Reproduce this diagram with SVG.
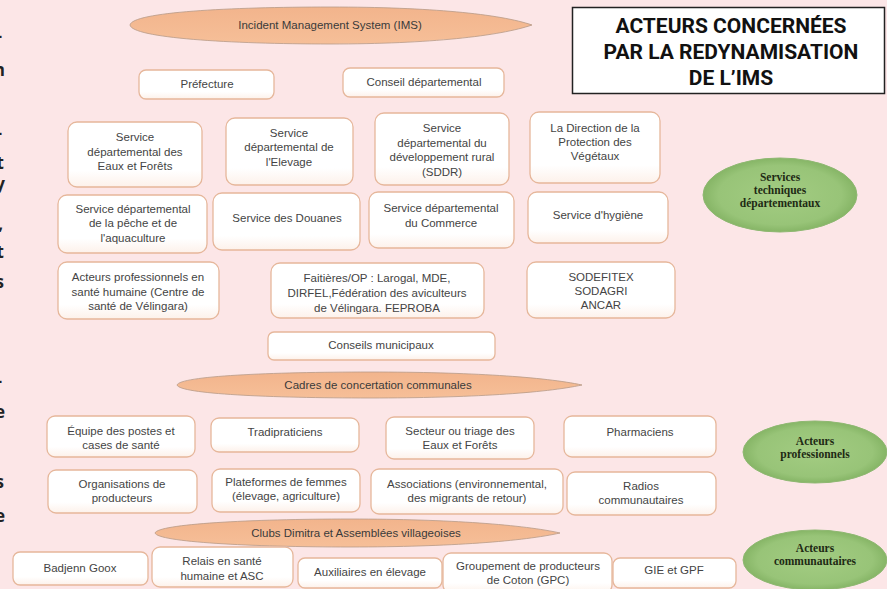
<svg xmlns="http://www.w3.org/2000/svg" width="887" height="589" viewBox="0 0 887 589">
<defs>
<linearGradient id="boxg" x1="0" y1="0" x2="0" y2="1">
<stop offset="0" stop-color="#ffffff"/>
<stop offset="0.75" stop-color="#ffffff"/>
<stop offset="1" stop-color="#fdf1ea"/>
</linearGradient>
<radialGradient id="greeng" cx="0.5" cy="0.5" r="0.5">
<stop offset="0" stop-color="#a3cc82"/>
<stop offset="0.8" stop-color="#98c478"/>
<stop offset="1" stop-color="#86b566"/>
</radialGradient>
<linearGradient id="orangeg" x1="0" y1="0" x2="0" y2="1">
<stop offset="0" stop-color="#f2b48c"/>
<stop offset="1" stop-color="#f6bf98"/>
</linearGradient>
</defs>
<style>
.box{fill:url(#boxg);stroke:#e6b79b;stroke-width:1.3}
.t{font-family:"Liberation Sans",Arial,sans-serif;font-size:11.5px;fill:#444;text-anchor:middle}
.band{fill:url(#orangeg);stroke:#b89a88;stroke-width:0.8}
.bt{font-family:"Liberation Sans",Arial,sans-serif;font-size:11.5px;fill:#3a3a3a;text-anchor:middle}
.green{fill:url(#greeng);stroke:#8fb872;stroke-width:1}
.gt{font-family:"Liberation Serif","Times New Roman",serif;font-size:11.5px;font-weight:bold;fill:#1e2a14;text-anchor:middle}
.title{font-family:Roboto,"Liberation Sans",sans-serif;font-size:21px;font-weight:bold;fill:#111;text-anchor:middle}
.frag{font-family:"Open Sans","Liberation Sans",sans-serif;font-size:17px;font-weight:bold;fill:#222;text-anchor:end}
</style>
<rect x="0" y="0" width="887" height="589" fill="#fce6e7"/>

<g id="margin-fragments">
<text class="frag" x="2" y="42">-</text>
<text class="frag" x="5" y="76">n</text>
<text class="frag" x="2" y="139">-</text>
<text class="frag" x="4" y="169">t</text>
<text class="frag" x="5" y="190">y</text>
<text class="frag" x="3" y="230">,</text>
<text class="frag" x="4" y="258">t</text>
<text class="frag" x="4" y="288">s</text>
<text class="frag" x="2" y="387">-</text>
<text class="frag" x="5" y="418">e</text>
<text class="frag" x="4" y="488">s</text>
<text class="frag" x="5" y="522">e</text>
</g>

<g id="ims">
<path class="band" d="M130,25 C132,12 230,7 330,7 C430,7 500,14 532,25 C500,36 430,44 330,44 C230,44 132,38 130,25 Z"/>
<text class="bt" x="330" y="29">Incident Management System (IMS)</text>
</g>

<g id="title">
<rect x="572.5" y="7.5" width="312" height="86" fill="#ffffff" stroke="#222" stroke-width="1.5"/>
<text class="title" x="731" y="33">ACTEURS CONCERNÉES</text>
<text class="title" x="731" y="59">PAR LA REDYNAMISATION</text>
<text class="title" x="731" y="85">DE L’IMS</text>
</g>

<g id="prefecture"><rect class="box" x="139" y="70" width="135" height="29" rx="7"/><text class="t" x="207" y="88">Préfecture</text></g>
<g id="conseil-departemental"><rect class="box" x="343" y="68" width="161" height="29" rx="7"/><text class="t" x="424" y="86">Conseil départemental</text></g>

<g id="eaux-forets"><rect class="box" x="68" y="122" width="134" height="65" rx="9"/>
<text class="t" x="135" y="141">Service</text><text class="t" x="135" y="156">départemental des</text><text class="t" x="135" y="170">Eaux et Forêts</text></g>
<g id="elevage"><rect class="box" x="226" y="118" width="127" height="67" rx="9"/>
<text class="t" x="289" y="137">Service</text><text class="t" x="289" y="151">départemental de</text><text class="t" x="289" y="166">l'Elevage</text></g>
<g id="sddr"><rect class="box" x="375" y="113" width="134" height="72" rx="9"/>
<text class="t" x="442" y="132">Service</text><text class="t" x="442" y="147">départemental du</text><text class="t" x="442" y="161">développement rural</text><text class="t" x="442" y="176">(SDDR)</text></g>
<g id="protection-vegetaux"><rect class="box" x="530" y="112" width="130" height="71" rx="9"/>
<text class="t" x="595" y="132">La Direction de la</text><text class="t" x="595" y="146">Protection des</text><text class="t" x="595" y="160">Végétaux</text></g>

<g id="peche"><rect class="box" x="58" y="195" width="149" height="58" rx="9"/>
<text class="t" x="133" y="213">Service départemental</text><text class="t" x="133" y="227">de la pêche et de</text><text class="t" x="133" y="242">l'aquaculture</text></g>
<g id="douanes"><rect class="box" x="213" y="193" width="147" height="57" rx="9"/>
<text class="t" x="287" y="222">Service des Douanes</text></g>
<g id="commerce"><rect class="box" x="369" y="192" width="145" height="56" rx="9"/>
<text class="t" x="441" y="212">Service départemental</text><text class="t" x="441" y="227">du Commerce</text></g>
<g id="hygiene"><rect class="box" x="528" y="192" width="140" height="51" rx="9"/>
<text class="t" x="598" y="219">Service d'hygiène</text></g>

<g id="sante-humaine"><rect class="box" x="58" y="262" width="161" height="57" rx="9"/>
<text class="t" x="138" y="281">Acteurs professionnels en</text><text class="t" x="138" y="296">santé humaine (Centre de</text><text class="t" x="138" y="310">santé de Vélingara)</text></g>
<g id="faitieres"><rect class="box" x="271" y="263" width="213" height="55" rx="9"/>
<text class="t" x="377" y="282">Faitières/OP : Larogal, MDE,</text><text class="t" x="377" y="297">DIRFEL,Fédération des aviculteurs</text><text class="t" x="377" y="312">de Vélingara. FEPROBA</text></g>
<g id="sodefitex"><rect class="box" x="527" y="262" width="148" height="56" rx="9"/>
<text class="t" x="601" y="281">SODEFITEX</text><text class="t" x="601" y="295">SODAGRI</text><text class="t" x="601" y="309">ANCAR</text></g>

<g id="conseils-municipaux"><rect class="box" x="268" y="332" width="227" height="28" rx="6"/>
<text class="t" x="381" y="349">Conseils municipaux</text></g>

<g id="cadres-concertation">
<path class="band" d="M177,385 C180,376 270,372 370,372 C470,372 545,377 582,385 C545,393 470,398 370,398 C270,398 180,394 177,385 Z"/>
<text class="bt" x="378" y="389">Cadres de concertation communales</text>
</g>

<g id="equipe-postes"><rect class="box" x="47" y="416" width="148" height="41" rx="8"/>
<text class="t" x="121" y="435">Équipe des postes et</text><text class="t" x="121" y="449">cases de santé</text></g>
<g id="tradipraticiens"><rect class="box" x="211" y="418" width="148" height="34" rx="8"/>
<text class="t" x="285" y="436">Tradipraticiens</text></g>
<g id="secteur-triage"><rect class="box" x="386" y="417" width="148" height="42" rx="8"/>
<text class="t" x="460" y="435">Secteur ou triage des</text><text class="t" x="460" y="449">Eaux et Forêts</text></g>
<g id="pharmaciens"><rect class="box" x="564" y="416" width="152" height="41" rx="8"/>
<text class="t" x="640" y="436">Pharmaciens</text></g>

<g id="organisations-producteurs"><rect class="box" x="48" y="470" width="149" height="43" rx="8"/>
<text class="t" x="122" y="488">Organisations de</text><text class="t" x="122" y="502">producteurs</text></g>
<g id="plateformes-femmes"><rect class="box" x="212" y="469" width="148" height="43" rx="8"/>
<text class="t" x="286" y="486">Plateformes de femmes</text><text class="t" x="286" y="500">(élevage, agriculture)</text></g>
<g id="associations"><rect class="box" x="371" y="469" width="192" height="45" rx="8"/>
<text class="t" x="467" y="488">Associations (environnemental,</text><text class="t" x="467" y="502">des migrants de retour)</text></g>
<g id="radios"><rect class="box" x="567" y="472" width="149" height="43" rx="8"/>
<text class="t" x="641" y="490">Radios</text><text class="t" x="641" y="504">communautaires</text></g>

<g id="clubs-dimitra">
<path class="band" d="M155,533 C158,524 250,519 350,519 C450,519 525,525 560,533 C525,541 450,547 350,547 C250,547 158,542 155,533 Z"/>
<text class="bt" x="356" y="537">Clubs Dimitra et Assemblées villageoises</text>
</g>

<g id="badjenn-goox"><rect class="box" x="13" y="552" width="135" height="33" rx="7"/>
<text class="t" x="80" y="572">Badjenn Goox</text></g>
<g id="relais-sante"><rect class="box" x="152" y="547" width="141" height="40" rx="8"/>
<text class="t" x="222" y="565">Relais en santé</text><text class="t" x="222" y="580">humaine et ASC</text></g>
<g id="auxiliaires"><rect class="box" x="298" y="558" width="144" height="30" rx="7"/>
<text class="t" x="370" y="576">Auxiliaires en élevage</text></g>
<g id="gpc"><rect class="box" x="443" y="553" width="169" height="40" rx="8"/>
<text class="t" x="528" y="570">Groupement de producteurs</text><text class="t" x="528" y="584">de Coton (GPC)</text></g>
<g id="gie-gpf"><rect class="box" x="613" y="558" width="123" height="30" rx="7"/>
<text class="t" x="674" y="574">GIE et GPF</text></g>

<g id="services-techniques"><ellipse class="green" cx="780" cy="195" rx="77" ry="37"/>
<text class="gt" x="780" y="181">Services</text><text class="gt" x="780" y="194">techniques</text><text class="gt" x="780" y="207">départementaux</text></g>
<g id="acteurs-professionnels"><ellipse class="green" cx="815" cy="452" rx="72" ry="31"/>
<text class="gt" x="815" y="445">Acteurs</text><text class="gt" x="815" y="458">professionnels</text></g>
<g id="acteurs-communautaires"><ellipse class="green" cx="815" cy="560" rx="72" ry="30"/>
<text class="gt" x="815" y="552">Acteurs</text><text class="gt" x="815" y="565">communautaires</text></g>

<g id="connectors"/>
</svg>
